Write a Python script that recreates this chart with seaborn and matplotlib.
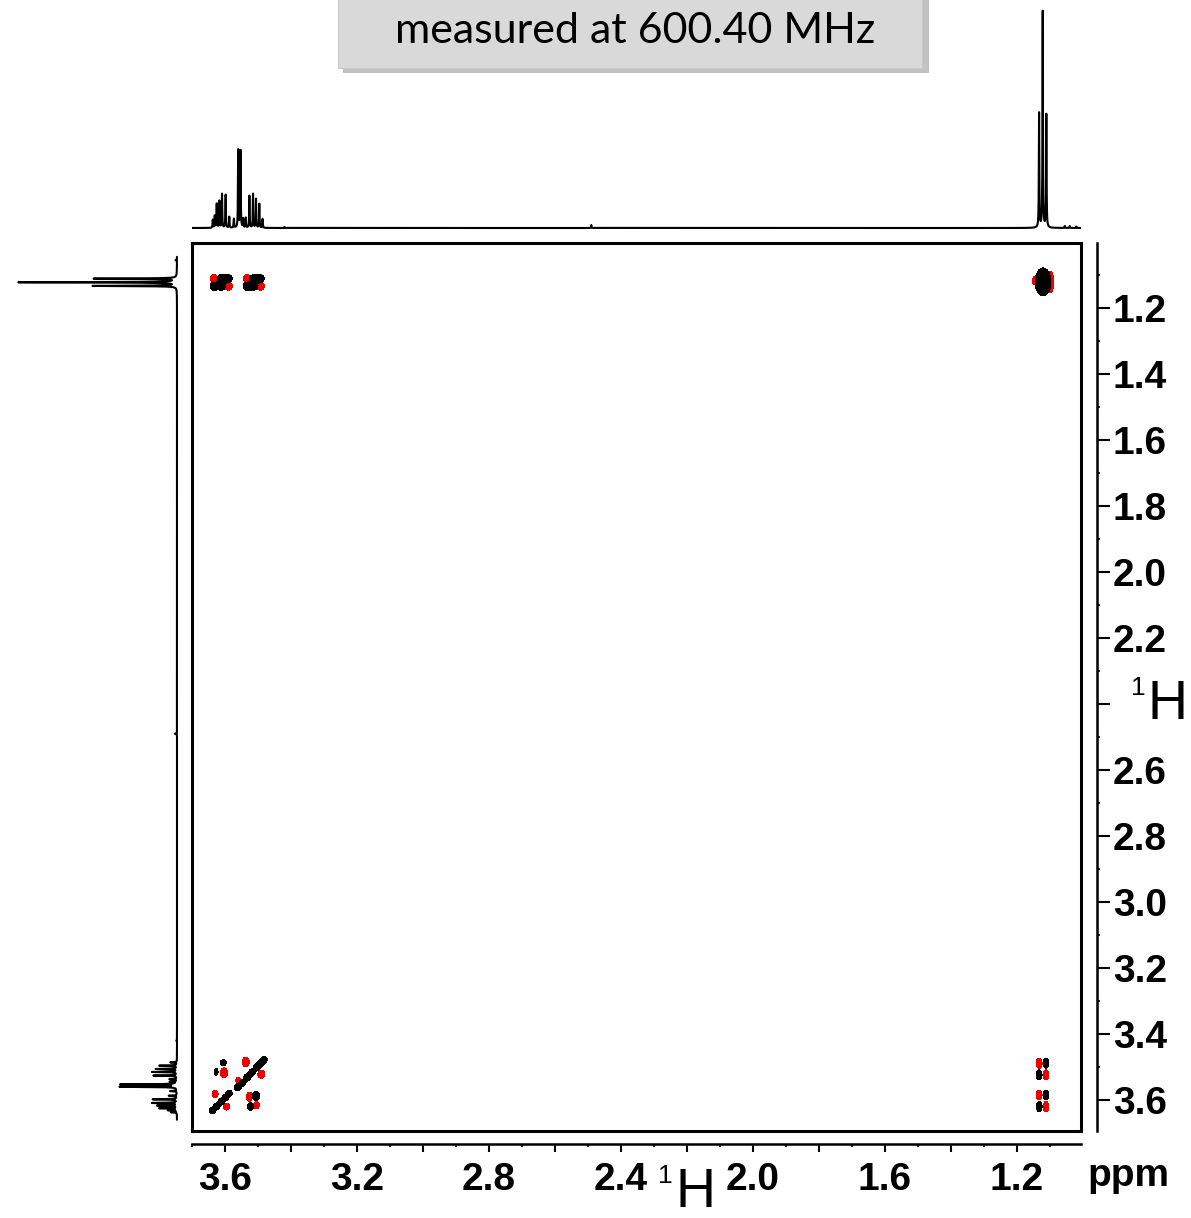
import numpy as np
import pandas as pd
import matplotlib
matplotlib.use("Agg")
import matplotlib.pyplot as plt
import seaborn as sns
from matplotlib.ticker import MultipleLocator, FuncFormatter
from matplotlib.patches import Rectangle

# ---------------------------------------------------------------
# 1D proton spectrum: line positions (ppm) and peak heights
# ---------------------------------------------------------------
h1_ppm = [3.637, 3.631, 3.625, 3.617, 3.609, 3.598, 3.587,
          3.573, 3.560, 3.553, 3.545,
          3.537, 3.526, 3.515, 3.506, 3.496, 3.486,
          3.420, 2.490,
          1.133, 1.122, 1.111,
          1.055, 1.040, 1.020]
h1_height = [8, 12, 24, 27, 34, 33, 11,
             9, 78, 77, 9,
             10, 32, 34, 29, 24, 9,
             1, 3,
             115, 217, 113,
             2, 2, 1.5]
line_hwhm = 0.0008          # ppm
side_scale = 0.73           # vertical projection drawn smaller

# ---------------------------------------------------------------
# 2D COSY contour features: F2 (ppm), F1 (ppm), phase,
# full width along F2 / F1 (ppm)
# ---------------------------------------------------------------
cosy_f2 = [
    # CH2 / CH3 cross peaks (row at 1.12 ppm)
    3.633, 3.611, 3.590, 3.633, 3.611, 3.590,
    3.533, 3.513, 3.493, 3.533, 3.513, 3.493,
    # CH3 / CH2 cross peaks (column at 1.12 ppm)
    1.133, 1.133, 1.112, 1.112, 1.133, 1.133, 1.112, 1.112,
    # CH3 diagonal
    1.121, 1.098, 1.098, 1.147,
    # CH2 region: geminal cross peak (upper left)
    3.605, 3.627, 3.603,
    # CH2 diagonal, upper part
    3.562, 3.547, 3.532, 3.518, 3.503, 3.490, 3.481,
    3.537, 3.490, 3.560,
    # CH2 diagonal, lower part
    3.638, 3.625, 3.611, 3.598, 3.587,
    3.630, 3.595,
    # geminal cross peak (lower right)
    3.526, 3.506, 3.523, 3.505,
]
cosy_f1 = [
    1.111, 1.111, 1.111, 1.134, 1.134, 1.134,
    1.111, 1.111, 1.111, 1.134, 1.134, 1.134,
    3.489, 3.524, 3.489, 3.524, 3.585, 3.620, 3.585, 3.620,
    1.121, 1.108, 1.135, 1.117,
    3.487, 3.515, 3.518,
    3.562, 3.548, 3.531, 3.516, 3.500, 3.487, 3.478,
    3.485, 3.522, 3.541,
    3.632, 3.619, 3.605, 3.592, 3.580,
    3.582, 3.620,
    3.590, 3.588, 3.620, 3.616,
]
cosy_phase = [
    -1, 1, 1, 1, 1, -1,
    -1, 1, 1, 1, 1, -1,
    -1, 1, 1, -1, -1, 1, 1, -1,
    1, -1, -1, -1,
    1, 1, -1,
    1, 1, 1, 1, 1, 1, 1,
    -1, -1, -1,
    1, 1, 1, 1, 1,
    -1, -1,
    -1, 1, 1, -1,
]
cosy_w2 = [
    0.024, 0.024, 0.024, 0.024, 0.024, 0.024,
    0.024, 0.024, 0.024, 0.024, 0.024, 0.024,
    0.018, 0.018, 0.018, 0.018, 0.018, 0.018, 0.018, 0.018,
    0.048, 0.015, 0.015, 0.012,
    0.018, 0.012, 0.021,
    0.021, 0.019, 0.021, 0.019, 0.021, 0.019, 0.018,
    0.021, 0.021, 0.015,
    0.020, 0.018, 0.020, 0.018, 0.018,
    0.018, 0.018,
    0.018, 0.021, 0.018, 0.018,
]
cosy_w1 = [
    0.024, 0.024, 0.024, 0.024, 0.024, 0.024,
    0.024, 0.024, 0.024, 0.024, 0.024, 0.024,
    0.030, 0.030, 0.030, 0.030, 0.030, 0.030, 0.030, 0.030,
    0.085, 0.036, 0.036, 0.024,
    0.018, 0.021, 0.030,
    0.021, 0.019, 0.021, 0.019, 0.021, 0.019, 0.018,
    0.030, 0.024, 0.018,
    0.020, 0.018, 0.020, 0.018, 0.018,
    0.021, 0.021,
    0.027, 0.027, 0.024, 0.021,
]
contour_level = 0.35

x_ticks_labelled = [3.6, 3.2, 2.8, 2.4, 2.0, 1.6, 1.2]
y_ticks_labelled = [1.2, 1.4, 1.6, 1.8, 2.0, 2.2, 2.6, 2.8, 3.0, 3.2, 3.4, 3.6]
title_text = "measured at 600.40 MHz"

F2_LIM = (3.700, 1.006)
F1_LIM = (3.694, 1.003)

# ---------------------------------------------------------------
sns.set_theme(style="white")
plt.rcParams["font.family"] = ["Liberation Sans", "DejaVu Sans"]

W, H = 1191, 1218
fig = plt.figure(figsize=(W / 100, H / 100), dpi=100)
fig.patch.set_facecolor("white")


def rect(l, t, r, b):
    return [l / W, 1 - b / H, (r - l) / W, (b - t) / H]


def spectrum(ppm_axis):
    y = np.zeros_like(ppm_axis)
    for p0, hgt in zip(h1_ppm, h1_height):
        y += hgt * line_hwhm ** 2 / ((ppm_axis - p0) ** 2 + line_hwhm ** 2)
    return y


# ---- main 2D panel ----
ax = fig.add_axes(rect(192, 243, 1081, 1131))
ax.set_xlim(*F2_LIM)
ax.set_ylim(*F1_LIM)
ax.set_xticks([])
ax.set_yticks([])
for s in ax.spines.values():
    s.set_visible(True)
    s.set_color("black")
    s.set_linewidth(2.2)

g2 = np.arange(1.0, 3.7, 0.0012)
g1 = np.arange(1.0, 3.7, 0.0012)
pos = np.zeros((g1.size, g2.size))
neg = np.zeros((g1.size, g2.size))
k = 2.0 * np.sqrt(2.0 * np.log(1.0 / contour_level))
for f2, f1, ph, w2, w1 in zip(cosy_f2, cosy_f1, cosy_phase, cosy_w2, cosy_w1):
    s2, s1 = w2 / k, w1 / k
    gx = np.exp(-0.5 * ((g2 - f2) / s2) ** 2)
    gy = np.exp(-0.5 * ((g1 - f1) / s1) ** 2)
    blob = np.outer(gy, gx)
    if ph > 0:
        pos += blob
    else:
        neg += blob
ax.contourf(g2, g1, neg, levels=[contour_level, 1e9], colors=["#f20000"])
ax.contourf(g2, g1, pos, levels=[contour_level, 1e9], colors=["black"])

# ---- scale axes (offset from the frame) ----
sc = fig.add_axes(rect(192, 243, 1081, 1131))
sc.patch.set_alpha(0)
sc.set_xlim(*F2_LIM)
sc.set_ylim(*F1_LIM)
sc.spines["left"].set_visible(False)
sc.spines["top"].set_visible(False)
sc.spines["bottom"].set_position(("outward", 9.4))
sc.spines["right"].set_position(("outward", 11.5))
for side in ("bottom", "right"):
    sc.spines[side].set_visible(True)
    sc.spines[side].set_color("black")
    sc.spines[side].set_linewidth(1.8)
sc.yaxis.tick_right()
sc.xaxis.set_major_locator(MultipleLocator(0.2))
sc.xaxis.set_minor_locator(MultipleLocator(0.1))
sc.yaxis.set_major_locator(MultipleLocator(0.2))
sc.yaxis.set_minor_locator(MultipleLocator(0.1))


def fmt_x(v, _):
    return f"{v:.1f}" if any(abs(v - t) < 1e-6 for t in x_ticks_labelled) else ""


def fmt_y(v, _):
    return f"{v:.1f}" if any(abs(v - t) < 1e-6 for t in y_ticks_labelled) else ""


sc.xaxis.set_major_formatter(FuncFormatter(fmt_x))
sc.yaxis.set_major_formatter(FuncFormatter(fmt_y))
sc.tick_params(axis="x", which="major", direction="out", length=6, width=1.5,
               pad=7, labelsize=28, colors="black", bottom=True)
sc.tick_params(axis="x", which="minor", direction="out", length=2.2, width=1.5,
               bottom=True)
sc.tick_params(axis="y", which="major", direction="out", length=9.4, width=1.5,
               pad=2, labelsize=28, colors="black", right=True, left=False)
sc.tick_params(axis="y", which="minor", direction="out", length=2.2, width=1.5,
               right=True, left=False)
for lab in sc.get_xticklabels() + sc.get_yticklabels():
    lab.set_fontweight("bold")
sc.set_xlabel("")
sc.set_ylabel("")

# ---- top projection ----
top_ppm = np.arange(F2_LIM[1], F2_LIM[0], 0.00015)
top_df = pd.DataFrame({"ppm": top_ppm, "intensity": spectrum(top_ppm)})
axt = fig.add_axes(rect(192, 0, 1081, 240))
sns.lineplot(data=top_df, x="ppm", y="intensity", ax=axt, color="black",
             linewidth=1.5, estimator=None, sort=False)
axt.set_xlim(*F2_LIM)
axt.set_ylim(-12, 228)
axt.axis("off")

# ---- left projection ----
left_ppm = np.arange(1.045, 3.66, 0.00015)
left_df = pd.DataFrame({"ppm": left_ppm,
                        "intensity": side_scale * spectrum(left_ppm)})
axl = fig.add_axes(rect(0, 243, 190, 1131))
sns.lineplot(data=left_df, x="intensity", y="ppm", ax=axl, color="black",
             linewidth=1.5, estimator=None, sort=False)
axl.set_xlim(177, -13)
axl.set_ylim(*F1_LIM)
axl.axis("off")


# ---- axis titles ----
def fig_text(x, y, s, **kw):
    fig.text(x / W, 1 - y / H, s, ha="center", va="center", color="black", **kw)


fig_text(1128, 1176, "ppm", fontsize=28, fontweight="bold")
fig_text(665, 1176, "1", fontsize=19)
fig_text(695, 1193, "H", fontsize=40)
fig_text(1138, 688, "1", fontsize=19)
fig_text(1167, 705, "H", fontsize=40)

# ---- header box ----
fig.patches.append(Rectangle((343 / W, 1 - 73 / H), 586 / W, 80 / H,
                             transform=fig.transFigure, facecolor="#a9a9a9",
                             edgecolor="none", alpha=0.7, zorder=1))
fig.patches.append(Rectangle((338 / W, 1 - 68 / H), 584 / W, 75 / H,
                             transform=fig.transFigure, facecolor="#d9d9d9",
                             edgecolor="#c8c8c8", linewidth=0.8, zorder=2))
fig.text(635 / W, 1 - 31 / H, title_text, ha="center", va="center",
         fontsize=31, family=["Lato", "DejaVu Sans"], color="black", zorder=3)

fig.savefig("out.png", dpi=100, facecolor="white")
